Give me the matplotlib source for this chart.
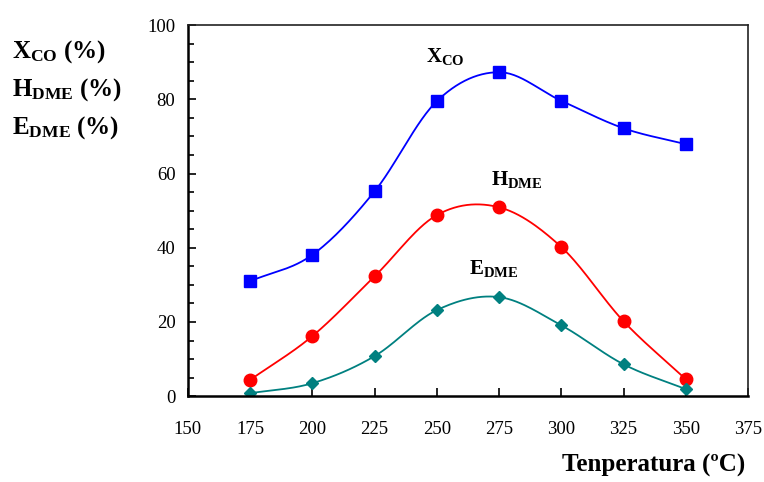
import numpy as np
import matplotlib
matplotlib.use('Agg')
import matplotlib.pyplot as plt
from matplotlib.ticker import MultipleLocator

plt.rcParams['font.family'] = 'Liberation Serif'
plt.rcParams['mathtext.fontset'] = 'custom'
plt.rcParams['mathtext.rm'] = 'Liberation Serif'
plt.rcParams['mathtext.bf'] = 'Liberation Serif:bold'

temp = [175, 200, 225, 250, 275, 300, 325, 350]
x_co = [31.0, 38.1, 55.2, 79.5, 87.3, 79.6, 72.2, 67.9]
h_dme = [4.4, 16.2, 32.3, 48.8, 50.9, 40.2, 20.2, 4.6]
e_dme = [0.8, 3.5, 10.8, 23.2, 26.7, 19.1, 8.6, 1.9]


def smooth(x, y, n=30):
    # catmull-rom, like the excel smoothed line
    x = np.asarray(x, float)
    y = np.asarray(y, float)
    px = np.concatenate([[2*x[0]-x[1]], x, [2*x[-1]-x[-2]]])
    py = np.concatenate([[2*y[0]-y[1]], y, [2*y[-1]-y[-2]]])
    xs, ys = [], []
    t = np.linspace(0, 1, n)
    for i in range(1, len(px)-2):
        for p, out in ((px, xs), (py, ys)):
            p0, p1, p2, p3 = p[i-1], p[i], p[i+1], p[i+2]
            out.extend(0.5*((2*p1) + (-p0+p2)*t + (2*p0-5*p1+4*p2-p3)*t**2
                            + (-p0+3*p1-3*p2+p3)*t**3))
    return xs, ys


fig = plt.figure(figsize=(7.64, 4.82), dpi=100)
ax = fig.add_axes([0.246, 0.178, 0.733, 0.770])

series = [
    (x_co, '#0000FF', 's', 8),
    (h_dme, '#FF0000', 'o', 9),
    (e_dme, '#008080', 'D', 6.5),
]
for vals, col, mk, ms in series:
    sx, sy = smooth(temp, vals)
    ax.plot(sx, sy, color=col, lw=1.3)
    ax.plot(temp, vals, ls='none', marker=mk, ms=ms, color=col)

ax.text(253.5, 91.5, r'$\mathbf{X_{CO}}$', fontsize=15, ha='center', va='center')
ax.text(282, 58.5, r'$\mathbf{H_{DME}}$', fontsize=15, ha='center', va='center')
ax.text(273, 34.5, r'$\mathbf{E_{DME}}$', fontsize=15, ha='center', va='center')

ax.set_xlim(150, 375)
ax.set_ylim(0, 100)
ax.xaxis.set_major_locator(MultipleLocator(25))
ax.yaxis.set_major_locator(MultipleLocator(20))
ax.yaxis.set_minor_locator(MultipleLocator(5))
ax.tick_params(axis='both', which='both', direction='in', labelsize=13.5)
ax.tick_params(axis='x', which='major', length=6, width=1.2, pad=18)
ax.tick_params(axis='y', which='major', length=6, width=1.2, pad=9)
ax.tick_params(axis='y', which='minor', length=4, width=1.2)

for s in ['left', 'bottom']:
    ax.spines[s].set_linewidth(1.8)
for s in ['top', 'right']:
    ax.spines[s].set_linewidth(1.2)
    ax.spines[s].set_color('#222222')

fig.text(0.975, 0.035, 'Tenperatura (ºC)', fontsize=18, fontweight='bold',
         ha='right', va='center')

ylab = [r'$\mathbf{X_{CO}}$', r'$\mathbf{H_{DME}}$', r'$\mathbf{E_{DME}}$']
for i, lab in enumerate(ylab):
    y = 1 - (52 + 38*i)/482
    fig.text(0.016, y, lab + r' $\mathbf{(\%)}$', fontsize=18, ha='left', va='center')

fig.savefig('out.png', dpi=100)
